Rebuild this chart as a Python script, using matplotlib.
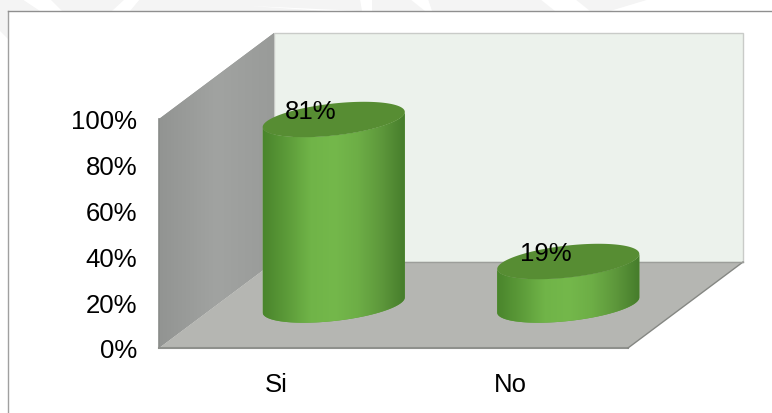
import numpy as np
import matplotlib
matplotlib.use("Agg")
import matplotlib.pyplot as plt
from matplotlib.colors import LinearSegmentedColormap
from matplotlib.lines import Line2D
from matplotlib.patches import Polygon

categories = ["Si", "No"]
values = [81, 19]
value_labels = ["81%", "19%"]
y_ticks = [0, 20, 40, 60, 80, 100]
y_tick_labels = ["0%", "20%", "40%", "60%", "80%", "100%"]

plt.rcParams["font.family"] = ["Liberation Sans", "DejaVu Sans"]

W, H = 772, 414
fig = plt.figure(figsize=(W / 100, H / 100), dpi=100)

# faint watermark showing above and left of the chart frame
def px(points):
    return [(x / W, (H - y) / H) for x, y in points]

faint = [
    [(0, 0), (22, 0), (40, 12), (0, 12)],
    [(50, 0), (125, 0), (112, 12), (62, 12)],
    [(140, 0), (360, 0), (362, 12), (250, 7), (325, 12), (130, 12)],
    [(372, 0), (820 / 2, 0), (425, 12), (372, 12)],
    [(428, 0), (540, 0), (555, 12), (432, 12)],
    [(575, 0), (650, 0), (610, 12), (590, 12)],
    [(0, 12), (8, 12), (8, 40), (0, 32)],
]
for shape in faint:
    fig.add_artist(Polygon(px(shape), fc="#f4f4f4", ec="none", transform=fig.transFigure))

ax = fig.add_axes([159 / W, (H - 349) / H, 469 / W, 229 / H])
ax.patch.set_visible(False)
for s in ax.spines.values():
    s.set_visible(False)

# 3d box, depth offset of the back plane in data units
dx = 115 / 234.5
dy = 86 / 2.29
x0, x1 = -0.5, 1.5

def gradient_patch(poly, extent, colors, z):
    cmap = LinearSegmentedColormap.from_list("g", colors)
    g = np.linspace(0, 1, 256)[None, :]
    im = ax.imshow(g, extent=extent, cmap=cmap, aspect="auto", origin="lower",
                   zorder=z, interpolation="bilinear")
    im.set_clip_box(fig.bbox)
    im.set_clip_path(poly)

# back wall
ax.add_patch(Polygon([(x0 + dx, dy), (x1 + dx, dy), (x1 + dx, 100 + dy), (x0 + dx, 100 + dy)],
                     fc="#ecf2ec", ec="#c9cbc8", lw=1, clip_on=False, zorder=1))
# left wall
left = Polygon([(x0, 0), (x0 + dx, dy), (x0 + dx, 100 + dy), (x0, 100)],
               fc="#9b9d9b", ec="none", clip_on=False, zorder=2)
ax.add_patch(left)
gradient_patch(left, (x0, x0 + dx, 0, 100 + dy), ["#929492", "#a1a3a1", "#999b99"], 2)
ax.add_line(Line2D([x0, x0], [0, 100], color="#8a8c8a", lw=1.2, clip_on=False, zorder=3))
# floor
ax.add_patch(Polygon([(x0, 0), (x1, 0), (x1 + dx, dy), (x0 + dx, dy)],
                     fc="#b5b6b2", ec="none", clip_on=False, zorder=3))
ax.add_line(Line2D([x0, x1], [0, 0], color="#8e908c", lw=1.5, clip_on=False, zorder=3))
ax.add_line(Line2D([x1, x1 + dx], [0, dy], color="#858783", lw=1, clip_on=False, zorder=3))
ax.add_line(Line2D([x0 + dx, x1 + dx], [dy, dy], color="#9c9e9a", lw=1, clip_on=False, zorder=3))

# cylinders, sheared ellipses for the caps
a = 0.303
b = 7.0
shear = 3.3
t = np.linspace(0, 2 * np.pi, 181)
side_colors = ["#4a852c", "#5c9b39", "#70b448", "#74b84b", "#6dae46", "#5d973b", "#457c2b"]
for i, v in enumerate(values):
    cx = i + dx / 2
    base = dy / 2
    top = base + v
    low = np.linspace(np.pi, 2 * np.pi, 91)
    bx = cx + a * np.cos(low)
    by = base + b * np.sin(low) + shear * np.cos(low)
    up = low[::-1]
    tx = cx + a * np.cos(up)
    ty = top + b * np.sin(up) + shear * np.cos(up)
    body = Polygon(np.r_[np.c_[bx, by], np.c_[tx, ty]], fc="#5f9f3a", ec="none",
                   clip_on=False, zorder=4)
    ax.add_patch(body)
    gradient_patch(body, (cx - a, cx + a, base - 15, top + 15), side_colors, 4)
    ax.add_patch(Polygon(np.c_[cx + a * np.cos(t), top + b * np.sin(t) + shear * np.cos(t)],
                         fc="#578d33", ec="none", clip_on=False, zorder=5))
    ax.annotate(value_labels[i], (cx, top), xytext=(-16.5, 6), textcoords="offset points",
                ha="center", va="center", fontsize=18.5, color="black", zorder=6,
                annotation_clip=False)

ax.set_xlim(-0.5, 1.5)
ax.set_ylim(0, 100)
ax.set_xticks(range(len(categories)), categories, fontsize=18.5)
ax.set_yticks(y_ticks, y_tick_labels, fontsize=18.5)
ax.tick_params(axis="both", length=0)
ax.tick_params(axis="y", pad=15.5)
ax.tick_params(axis="x", pad=17)

# outer chart frame
fig.add_artist(Line2D([8 / W, 8 / W], [0, (H - 12) / H], color="#a0a0a0", lw=1))
fig.add_artist(Line2D([8 / W, 1], [(H - 12) / H, (H - 12) / H], color="#8f8f8f", lw=1))

fig.savefig("out.png", dpi=100)
